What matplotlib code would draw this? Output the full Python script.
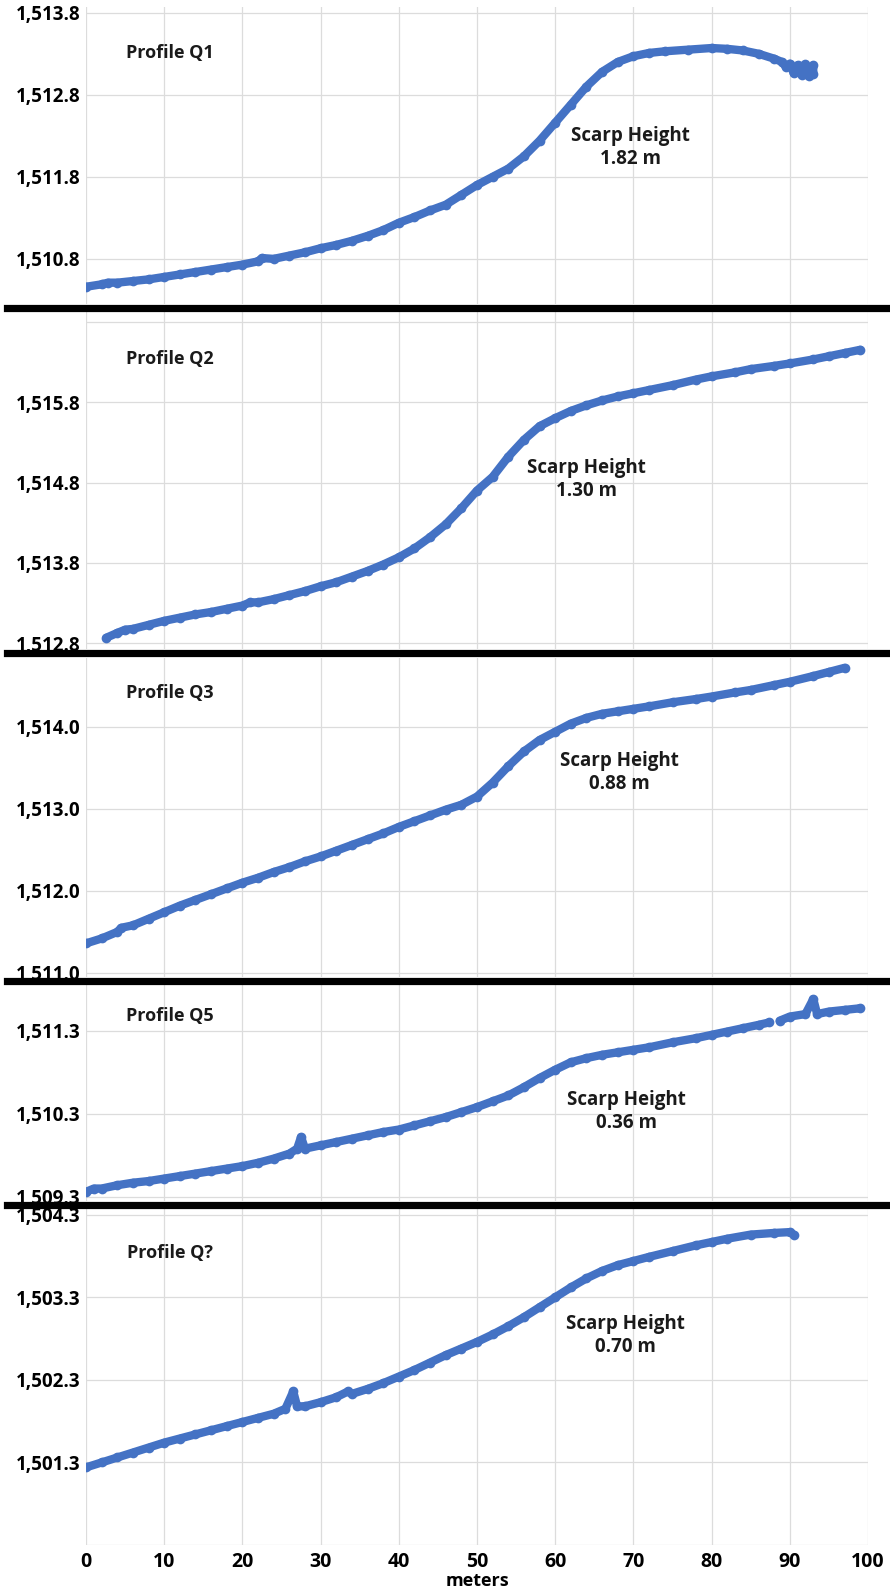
import numpy as np
import matplotlib
matplotlib.use("Agg")
import matplotlib.pyplot as plt
from matplotlib.lines import Line2D

plt.rcParams['font.family'] = ['Open Sans', 'DejaVu Sans']

# ---- data (distance in m, elevation in m) ----
q1_x = [0, 2, 2.8, 4, 6, 8, 10, 12, 14, 16, 18, 20, 22, 22.5, 24, 26, 28, 30, 32, 34,
        36, 38, 40, 42, 44, 46, 48, 50, 52, 54, 56, 58, 60, 62, 64, 66, 68, 70,
        72, 74, 77, 80, 82, 84, 86, 88, 89, 89.5, 90, 90.5, 91, 91.5, 92, 92.5, 93, 93]
q1_y = [1510.46, 1510.49, 1510.51, 1510.51, 1510.53, 1510.55, 1510.58, 1510.61, 1510.64,
        1510.67, 1510.70, 1510.73, 1510.77, 1510.81, 1510.80, 1510.84, 1510.88, 1510.93,
        1510.97, 1511.02, 1511.08, 1511.15, 1511.24, 1511.31, 1511.39, 1511.46, 1511.58,
        1511.70, 1511.80, 1511.90, 1512.05, 1512.24, 1512.46, 1512.68, 1512.90, 1513.08,
        1513.20, 1513.27, 1513.31, 1513.33, 1513.35, 1513.37, 1513.36, 1513.34, 1513.30,
        1513.24, 1513.20, 1513.14, 1513.18, 1513.06, 1513.16, 1513.04, 1513.17, 1513.03,
        1513.16, 1513.05]

q2_x = [2.6, 4, 5, 6, 8, 10, 12, 14, 16, 18, 20, 21, 22, 24, 26, 28, 30, 32, 34, 36,
        38, 40, 42, 44, 46, 48, 50, 52, 54, 56, 58, 60, 62, 64, 66, 68, 70, 72, 75,
        78, 80, 83, 85, 88, 90, 93, 95, 97, 99]
q2_y = [1512.87, 1512.93, 1512.97, 1512.98, 1513.03, 1513.08, 1513.12, 1513.16, 1513.19,
        1513.23, 1513.27, 1513.31, 1513.31, 1513.35, 1513.40, 1513.45, 1513.51, 1513.56,
        1513.63, 1513.70, 1513.78, 1513.87, 1513.98, 1514.12, 1514.28, 1514.48, 1514.70,
        1514.87, 1515.12, 1515.33, 1515.50, 1515.60, 1515.69, 1515.76, 1515.82, 1515.87,
        1515.91, 1515.95, 1516.01, 1516.08, 1516.12, 1516.17, 1516.21, 1516.25, 1516.28,
        1516.33, 1516.37, 1516.41, 1516.45]

q3_x = [0, 2, 4, 4.5, 6, 8, 10, 12, 14, 16, 18, 20, 22, 24, 26, 28, 30, 32, 34, 36,
        38, 40, 42, 44, 46, 48, 50, 52, 54, 56, 58, 60, 62, 64, 66, 68, 70, 72, 75,
        78, 80, 83, 85, 88, 90, 93, 95, 97]
q3_y = [1511.36, 1511.42, 1511.50, 1511.55, 1511.58, 1511.66, 1511.74, 1511.82, 1511.89,
        1511.96, 1512.03, 1512.10, 1512.16, 1512.23, 1512.29, 1512.36, 1512.42, 1512.49,
        1512.56, 1512.63, 1512.70, 1512.78, 1512.85, 1512.92, 1512.99, 1513.05, 1513.15,
        1513.32, 1513.52, 1513.70, 1513.84, 1513.94, 1514.04, 1514.11, 1514.16, 1514.19,
        1514.22, 1514.25, 1514.30, 1514.34, 1514.37, 1514.42, 1514.45, 1514.51, 1514.55,
        1514.62, 1514.67, 1514.72]

q5_x = [0, 1, 2, 4, 6, 8, 10, 12, 14, 16, 18, 20, 22, 24, 26, 27, 27.5, 28, 30, 32,
        34, 36, 38, 40, 42, 44, 46, 48, 50, 52, 54, 56, 58, 60, 62, 64, 66, 68, 70,
        72, 75, 78, 80, 82, 84, 86, 87.4, 87.8, 88.7, 90, 92, 93, 93.5, 95, 97, 99]
q5_y = [1509.36, 1509.40, 1509.40, 1509.44, 1509.47, 1509.49, 1509.52, 1509.55, 1509.58,
        1509.61, 1509.64, 1509.67, 1509.71, 1509.76, 1509.82, 1509.88, 1510.02, 1509.88,
        1509.92, 1509.96, 1510.00, 1510.04, 1510.08, 1510.11, 1510.16, 1510.21, 1510.26,
        1510.32, 1510.38, 1510.45, 1510.52, 1510.62, 1510.73, 1510.83, 1510.92, 1510.97,
        1511.01, 1511.04, 1511.07, 1511.10, 1511.16, 1511.21, 1511.25, 1511.29, 1511.33,
        1511.37, 1511.40, np.nan, 1511.42, 1511.47, 1511.50, 1511.68, 1511.50, 1511.53,
        1511.55, 1511.57]

q7_x = [0, 2, 4, 6, 8, 10, 12, 14, 16, 18, 20, 22, 24, 25.5, 26.5, 27, 28, 30, 32,
        33.5, 34, 36, 38, 40, 42, 44, 46, 48, 50, 52, 54, 56, 58, 60, 62, 64, 66, 68,
        70, 72, 75, 78, 80, 82, 85, 88, 90, 90.5]
q7_y = [1501.24, 1501.30, 1501.36, 1501.42, 1501.48, 1501.54, 1501.59, 1501.64, 1501.69,
        1501.74, 1501.79, 1501.84, 1501.89, 1501.95, 1502.16, 1501.98, 1501.98, 1502.03,
        1502.09, 1502.16, 1502.13, 1502.19, 1502.26, 1502.34, 1502.42, 1502.51, 1502.60,
        1502.68, 1502.76, 1502.85, 1502.95, 1503.06, 1503.18, 1503.30, 1503.42, 1503.53,
        1503.62, 1503.69, 1503.74, 1503.79, 1503.86, 1503.93, 1503.97, 1504.01, 1504.06,
        1504.08, 1504.09, 1504.06]

profile_names = ['Profile Q1', 'Profile Q2', 'Profile Q3', 'Profile Q5', 'Profile Q?']
scarp_heights = ['1.82 m', '1.30 m', '0.88 m', '0.36 m', '0.70 m']
y_ticks = [
    [1510.8, 1511.8, 1512.8, 1513.8],
    [1512.8, 1513.8, 1514.8, 1515.8, 1516.8],
    [1511.0, 1512.0, 1513.0, 1514.0],
    [1509.3, 1510.3, 1511.3],
    [1500.3, 1501.3, 1502.3, 1503.3, 1504.3],
]
hidden_ticks = [None, 1516.8, None, None, 1500.3]
y_limits = [(1510.25, 1513.87), (1512.73, 1516.92), (1510.95, 1514.84),
            (1509.25, 1511.85), (1500.3, 1504.37)]
x_ticks = list(range(0, 101, 10))

# ---- layout (pixel based) ----
W, H = 890, 1592
BLUE = '#4472C4'
GRID = '#dcdcdc'

panel_px = [(7, 304), (312, 649), (658, 977), (985, 1201), (1209, 1545)]
sep_px = [307.5, 653, 981, 1205]
profile_lbl_px = [53, 359, 693, 1016, 1253]
scarp_px = [(630, 135), (586, 467), (619, 759), (626, 1098), (625, 1323)]

series = [(q1_x, q1_y), (q2_x, q2_y), (q3_x, q3_y), (q5_x, q5_y), (q7_x, q7_y)]

fig = plt.figure(figsize=(W / 100, H / 100), dpi=100)
fig.patch.set_facecolor('white')

def fx(x):
    return x / W

def fy(y):
    return 1 - y / H

for i, (top, bot) in enumerate(panel_px):
    ax = fig.add_axes([fx(86), fy(bot), fx(868 - 86), (bot - top) / H])
    xs, ys = series[i]
    ax.plot(xs, ys, color=BLUE, lw=6.0, solid_capstyle='round',
            solid_joinstyle='round', marker='o', ms=7, mew=0, zorder=3)
    ax.set_xlim(0, 100)
    ax.set_ylim(*y_limits[i])
    ax.set_xticks(x_ticks)
    ax.set_yticks(y_ticks[i])
    ax.set_yticklabels(['' if v == hidden_ticks[i] else f'{v:,.1f}' for v in y_ticks[i]],
                       fontsize=13.5, fontweight='bold')
    ax.grid(True, color=GRID, lw=0.9, zorder=0)
    ax.set_axisbelow(True)
    for sp in ax.spines.values():
        sp.set_visible(False)
    ax.tick_params(length=0, pad=4)
    if i < 4:
        ax.tick_params(axis='x', labelbottom=False)
    else:
        ax.set_xticklabels([str(v) for v in x_ticks], fontsize=14, fontweight='bold')
        ax.tick_params(axis='x', pad=5)

    fig.text(fx(170), fy(profile_lbl_px[i]), profile_names[i], ha='center', va='center',
             fontsize=13, fontweight='bold', color='#1a1a1a')
    sx, sy = scarp_px[i]
    fig.text(fx(sx), fy(sy + 13), 'Scarp Height\n' + scarp_heights[i], ha='center',
             va='center', fontsize=13.5, fontweight='bold', color='#1a1a1a',
             linespacing=1.2)

# thick separators between the stacked profiles
for y in sep_px:
    fig.add_artist(Line2D([fx(7), 1.0], [fy(y), fy(y)], color='black', lw=5.2,
                          transform=fig.transFigure))

fig.text(fx(477), fy(1581), 'meters', ha='center', va='center', fontsize=13,
         fontweight='bold')

fig.savefig('out.png', dpi=100, facecolor='white')
